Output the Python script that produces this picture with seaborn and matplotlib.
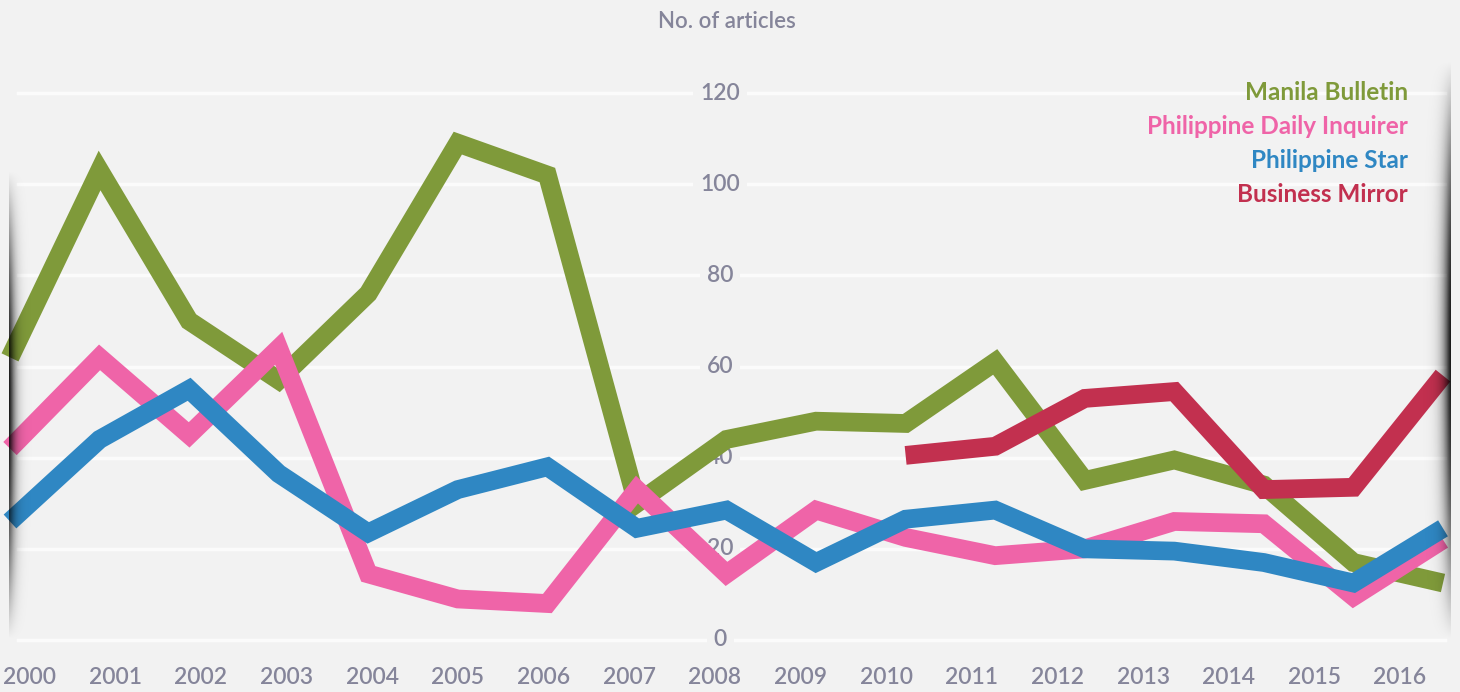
import numpy as np
import pandas as pd
import matplotlib
matplotlib.use("Agg")
import matplotlib.pyplot as plt
import seaborn as sns

years = list(range(2000, 2017))
manila_bulletin = [62, 103, 70, 57, 76, 109, 102, 30, 44, 48, 47.5, 61, 35, 39.5, 34, 17, 12.5]
daily_inquirer = [42, 62, 45, 64, 14.5, 9, 8, 33, 14.5, 28.5, 22.5, 18.5, 20, 26, 25.5, 9.5, 22]
philippine_star = [26, 44, 55, 36.5, 23.5, 33, 38, 24.5, 28.5, 17, 26.5, 28.5, 20, 19.5, 17, 12.5, 24.5]
business_mirror = [np.nan] * 10 + [40.5, 42.5, 53, 54.5, 33, 33.5, 58]
series_names = ["Manila Bulletin", "Philippine Daily Inquirer", "Philippine Star", "Business Mirror"]
colors = ["#7f9a3a", "#ef64a8", "#2f87c3", "#c2304f"]
y_ticks = [0, 20, 40, 60, 80, 100, 120]

df = pd.DataFrame({"Year": years,
                   series_names[0]: manila_bulletin,
                   series_names[1]: daily_inquirer,
                   series_names[2]: philippine_star,
                   series_names[3]: business_mirror})
long = df.melt(id_vars="Year", var_name="Paper", value_name="Articles").dropna()

bg = "#f2f2f2"
txt = "#85859a"
plt.rcParams["font.family"] = ["Lato", "DejaVu Sans"]

fig = plt.figure(figsize=(14.6, 6.92), dpi=100, facecolor=bg)
# pixel layout: 2000 -> x=10, 2016 -> x=1443 ; 0 -> y=640, 120 -> y=93
xpp = 16 / 1433
ypp = 120 / 547
x0 = 2000 - 10 * xpp
x1 = 2016 + (1460 - 1443) * xpp
top_px, bot_px = 33, 660
ax = fig.add_axes([0, (692 - bot_px) / 692, 1, (bot_px - top_px) / 692])
ybot = -(bot_px - 640) * ypp
ytop = 120 + (93 - top_px) * ypp
ax.set_facecolor(bg)
ax.set_xlim(x0, x1)
ax.set_ylim(ybot, ytop)

for t in y_ticks:
    ax.axhline(t, xmin=0.012, xmax=0.99, color="#fbfbfb", lw=2.5, zorder=0)
    ax.text(2007.93, t, str(t), ha="center", va="center", fontsize=16.5,
            color=txt, zorder=1, fontweight="semibold",
            bbox=dict(boxstyle="square,pad=0.3", fc=bg, ec="none"))

sns.lineplot(data=long, x="Year", y="Articles", hue="Paper", hue_order=series_names,
             palette=colors, lw=13.5, legend=False, ax=ax, zorder=3,
             solid_joinstyle="miter", solid_capstyle="butt")

for s in ax.spines.values():
    s.set_visible(False)
ax.set_yticks([])
ax.set_xlabel("")
ax.set_ylabel("")
label_pos = np.linspace(2000.22, 2015.52, len(years))
ax.set_xticks(label_pos, [str(y) for y in years])
ax.tick_params(axis="x", length=0, labelsize=16.5, labelcolor=txt, pad=5)
for lab in ax.get_xticklabels():
    lab.set_fontweight("semibold")

fig.text(727 / 1460, 1 - 22 / 692, "No. of articles", ha="center", va="center",
         fontsize=16, color=txt, fontweight="semibold")

legend_y = [92, 126, 160, 195]
for name, c, yy in zip(series_names, colors, legend_y):
    fig.text(1408 / 1460, 1 - yy / 692, name, ha="right", va="center",
             fontsize=17.5, color=c, fontweight="bold")

# edge shadows
ov = fig.add_axes([0, 0, 1, 1], zorder=5)
ov.set_xlim(0, 1460)
ov.set_ylim(692, 0)
ov.axis("off")
ov.patch.set_alpha(0)

def shadow(xa, xb, ya, yb, dark_at_left):
    w = 40
    h = 200
    xs = np.linspace(0, 1, w)
    ys = np.linspace(0, 1, h)
    hx = np.exp(-((xs if dark_at_left else 1 - xs) * 4.0) ** 1.3)
    vy = np.sin(np.pi * ys) ** 1.0
    a = np.outer(vy, hx) * 0.9
    img = np.zeros((h, w, 4))
    img[..., 3] = a
    ov.imshow(img, extent=[xa, xb, yb, ya], aspect="auto", interpolation="bilinear")

shadow(9, 34, 170, 640, True)
shadow(1420, 1451, 60, 640, False)

fig.savefig("out.png", dpi=100, facecolor=bg)
